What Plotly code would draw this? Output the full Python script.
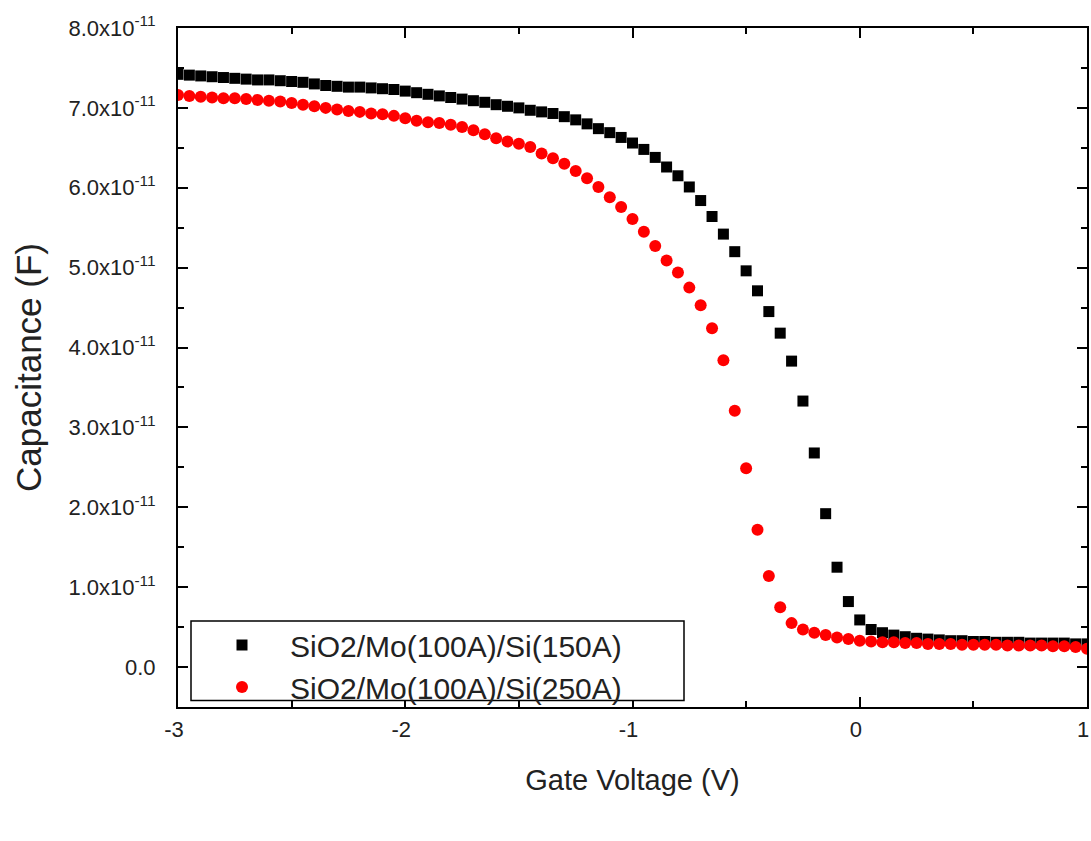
import numpy as np
import plotly.graph_objects as go

# Gate voltage (V), step 0.05 from -3 to 1
gate_voltage = [round(-3 + 0.05 * k, 2) for k in range(81)]

# Capacitance in units of 1e-11 F
cap_si150 = [
    7.42, 7.41, 7.40, 7.39, 7.38, 7.37, 7.36, 7.35, 7.35, 7.34,
    7.33, 7.32, 7.30, 7.28, 7.27, 7.26, 7.26, 7.25, 7.24, 7.23,
    7.21, 7.19, 7.17, 7.15, 7.13, 7.11, 7.09, 7.07, 7.04, 7.02,
    7.00, 6.97, 6.95, 6.93, 6.89, 6.85, 6.80, 6.74, 6.69, 6.63,
    6.56, 6.48, 6.38, 6.26, 6.15, 6.01, 5.84, 5.64, 5.42, 5.20,
    4.96, 4.71, 4.45, 4.18, 3.83, 3.33, 2.68, 1.92, 1.25, 0.82,
    0.59, 0.47, 0.43, 0.40, 0.38, 0.36, 0.35, 0.34, 0.33, 0.33,
    0.32, 0.32, 0.31, 0.31, 0.31, 0.30, 0.30, 0.30, 0.30, 0.29,
    0.29,
]
cap_si250 = [
    7.16, 7.15, 7.14, 7.13, 7.12, 7.12, 7.11, 7.10, 7.09, 7.08,
    7.06, 7.04, 7.02, 7.00, 6.98, 6.96, 6.95, 6.93, 6.92, 6.90,
    6.87, 6.84, 6.82, 6.81, 6.79, 6.76, 6.72, 6.67, 6.62, 6.58,
    6.55, 6.51, 6.43, 6.37, 6.30, 6.21, 6.12, 6.01, 5.88, 5.76,
    5.61, 5.45, 5.27, 5.09, 4.94, 4.75, 4.53, 4.24, 3.84, 3.21,
    2.49, 1.72, 1.14, 0.75, 0.55, 0.47, 0.43, 0.40, 0.37, 0.35,
    0.33, 0.32, 0.31, 0.31, 0.30, 0.30, 0.29, 0.29, 0.29, 0.28,
    0.28, 0.28, 0.28, 0.27, 0.27, 0.27, 0.27, 0.26, 0.26, 0.25,
    0.23,
]

series_names = ["SiO2/Mo(100A)/Si(150A)", "SiO2/Mo(100A)/Si(250A)"]

y_tick_vals = [0, 1, 2, 3, 4, 5, 6, 7, 8]
y_tick_text = ["0.0"] + [f"{v:.1f}x10<sup>-11</sup>" for v in y_tick_vals[1:]]
x_tick_vals = [-3, -2, -1, 0, 1]
x_tick_text = ["-3", "-2", "-1", "0", "1"]

FONT = "Liberation Sans, Arial, sans-serif"
scale = 1e-11

fig = go.Figure()
fig.add_trace(go.Scatter(
    x=gate_voltage, y=[v * scale for v in cap_si150], mode="markers",
    name=series_names[0],
    marker=dict(symbol="square", size=11, color="black", line=dict(width=0)),
))
fig.add_trace(go.Scatter(
    x=gate_voltage, y=[v * scale for v in cap_si250], mode="markers",
    name=series_names[1],
    marker=dict(symbol="circle", size=12, color="#ff0000", line=dict(width=0)),
))

L, R, T, B = 178, 4, 28, 134
W, H = 1091, 841
pw, ph = W - L - R, H - T - B

def px_x(p):
    return (p - L) / pw

def px_y(p):
    return (H - B - p) / ph

# legend frame
fig.add_shape(type="rect", xref="paper", yref="paper",
              x0=px_x(191), x1=px_x(684), y0=px_y(700.5), y1=px_y(621),
              line=dict(color="black", width=1.5), fillcolor="white", layer="above")

axis_common = dict(
    showline=True, linecolor="black", linewidth=2, mirror="allticks",
    ticks="inside", ticklen=10, tickwidth=1.5, tickcolor="black",
    showgrid=False, zeroline=False, ticklabeloverflow="allow", automargin=False,
    tickfont=dict(family=FONT, size=22, color="#222222"),
)

fig.update_xaxes(
    range=[-3, 1], tickvals=[v for v in x_tick_vals], ticktext=x_tick_text,
    minor=dict(ticks="inside", ticklen=6, tickwidth=1.5, tickcolor="black", dtick=0.5, tick0=-3),
    title=dict(text="Gate Voltage (V)", font=dict(family=FONT, size=29, color="#222222"), standoff=28),
    ticklabelstandoff=2, ticklabelshift=-4,
    **axis_common,
)
fig.update_yaxes(
    range=[-0.5e-11, 8.0e-11], tickvals=[v * scale for v in y_tick_vals], ticktext=y_tick_text,
    minor=dict(ticks="inside", ticklen=6, tickwidth=1.5, tickcolor="black", dtick=0.5e-11, tick0=0),
    title=dict(text="Capacitance (F)", font=dict(family=FONT, size=35, color="#222222"), standoff=16),
    ticklabelstandoff=16,
    **axis_common,
)

fig.update_layout(
    width=W, height=H,
    margin=dict(l=L, r=R, t=T, b=B, autoexpand=False),
    paper_bgcolor="white", plot_bgcolor="white",
    font=dict(family=FONT, color="#222222"),
    legend=dict(
        x=px_x(194), y=px_y(619), xanchor="left", yanchor="top",
        bgcolor="rgba(0,0,0,0)", borderwidth=0,
        font=dict(family=FONT, size=30, color="#222222"),
        itemwidth=86, tracegroupgap=0,
    ),
    showlegend=True,
)

fig.write_html("out.html")
